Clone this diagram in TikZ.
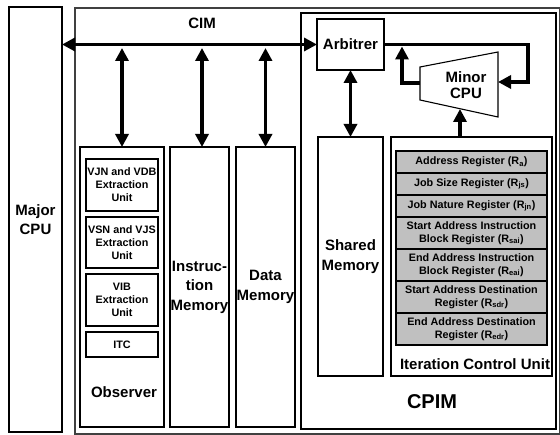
\documentclass[tikz,border=0pt]{standalone}
\usepackage{fontspec}
\setmainfont{Liberation Sans}
\usetikzlibrary{arrows.meta}
\newcommand\lblbig{\fontsize{15}{19.5}\selectfont\bfseries}
\newcommand\lblsmall{\fontsize{10.8}{13}\selectfont\bfseries}
\newcommand\lblhuge{\fontsize{20}{24}\selectfont\bfseries}
\definecolor{regfill}{RGB}{192,192,192}
\begin{document}
\begin{tikzpicture}[x=1pt,y=-1pt,
  box/.style={draw=black, line width=1.1pt, inner sep=0pt, outer sep=0pt,
              anchor=north west, align=center, font=\lblbig},
  subbox/.style={box, font=\lblsmall, minimum width=72pt},
  reg/.style={box, fill=regfill, font=\lblsmall, minimum width=151pt},
  outerbox/.style={draw=black!75, line width=1.6pt, inner sep=0pt, anchor=north west},
  label/.style={inner sep=0pt, align=center, font=\lblbig},
  tipA/.tip={Triangle[length=13pt,width=13pt]},
  thk/.style={line width=3.8pt, line join=miter},
  dbl/.style={thk, tipA-tipA},
  one/.style={thk, -tipA}]
\useasboundingbox (0,0) rectangle (560,435);

% main frames
\node[box, minimum width=53pt, minimum height=425pt] (major) at (9,7) {Major\\CPU};
\node[outerbox, minimum width=485pt, minimum height=426pt] (cimbox) at (74,7) {};
\node[label] (cimlbl) at (202,23) {CIM};
\node[box, minimum width=255pt, minimum height=416pt] (cpim) at (301,13) {};
\node[label, font=\lblhuge] (cpimlbl) at (432,402) {CPIM};

% CIM contents
\node[box, minimum width=84pt, minimum height=280pt] (obs) at (80,147) {};
\node[label] (obslbl) at (124,392) {Observer};
\node[subbox, minimum height=52pt] (vjn) at (86,159) {VJN and VDB\\Extraction\\Unit};
\node[subbox, minimum height=51pt] (vsn) at (86,217) {VSN and VJS\\Extraction\\Unit};
\node[subbox, minimum height=52pt] (vib) at (86,274) {VIB\\Extraction\\Unit};
\node[subbox, minimum height=25pt] (itc) at (86,332) {ITC};
\node[box, minimum width=59pt, minimum height=280pt] (instr) at (170,147) {Instruc-\\tion\\Memory};
\node[box, minimum width=59pt, minimum height=280pt] (data) at (236,147) {Data\\Memory};

% CPIM contents
\node[box, minimum width=67pt, minimum height=51pt] (arb) at (317,19) {Arbitrer};
\node[box, minimum width=65pt, minimum height=239pt] (shm) at (318,137) {Shared\\Memory};
\node[box, minimum width=161pt, minimum height=239pt] (icu) at (391,137) {};
\node[label] (iculbl) at (475,364) {Iteration Control Unit};

\node[reg, minimum height=22pt] (ra) at (396,151) {Address Register (R\textsubscript{a})};
\node[reg, minimum height=22pt] (rjs) at (396,173) {Job Size Register (R\textsubscript{js})};
\node[reg, minimum height=22pt] (rjn) at (396,195) {Job Nature Register (R\textsubscript{jn})};
\node[reg, minimum height=32pt] (rsai) at (396,217) {Start Address Instruction\\Block Register (R\textsubscript{sai})};
\node[reg, minimum height=32pt] (reai) at (396,249) {End Address Instruction\\Block Register (R\textsubscript{eai})};
\node[reg, minimum height=32pt] (rsdr) at (396,281) {Start Address Destination\\Register (R\textsubscript{sdr})};
\node[reg, minimum height=32pt] (redr) at (396,313) {End Address Destination\\Register (R\textsubscript{edr})};

% minor CPU trapezoid
\draw[line width=1.1pt, line join=miter] (420,67) -- (498,52) -- (498,117) -- (420,100) -- cycle;
\node[label] (minor) at (466,85) {Minor\\[-3pt]CPU};

% connector points
\coordinate (busB) at (0,48);
\coordinate (minR) at (498,82);
\coordinate (minL) at (420,83);
\coordinate (minB) at (460,109);
\coordinate (loopTR) at (528,44.5);
\coordinate (loopBR) at (528,82);
\coordinate (upTurn) at (402,83);
\coordinate (upTip) at (402,46.5);

% connectors
\draw[dbl] (major.east |- arb.west) -- (arb.west);
\draw[dbl] (obs.north |- busB) -- (obs.north);
\draw[dbl] ([xshift=2.5pt]instr.north |- busB) -- ([xshift=2.5pt]instr.north);
\draw[dbl] (data.north |- busB) -- (data.north);
\draw[dbl] (arb.south) -- (shm.north);
\draw[one] (arb.east) -- (loopTR) -- (loopBR) -- (minR);
\draw[one] (minL) -- (upTurn) -- (upTip);
\draw[one] (icu.north -| minB) -- (minB);
\end{tikzpicture}
\end{document}
